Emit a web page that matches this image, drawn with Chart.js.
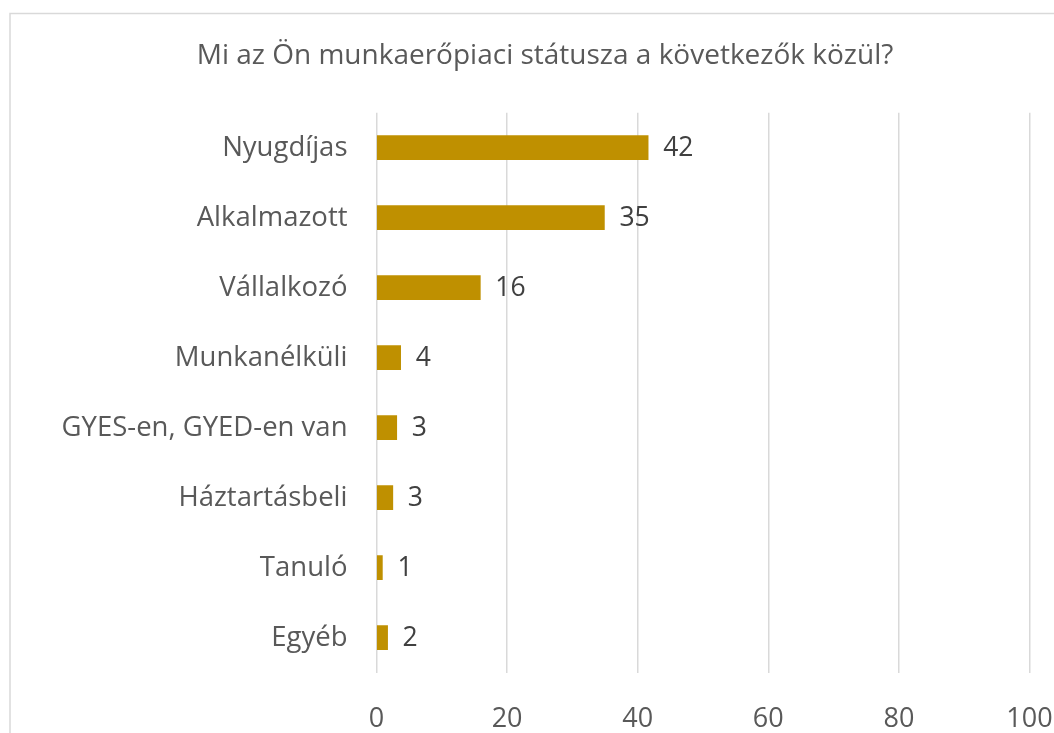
<!DOCTYPE html>
<html>
<head>
<meta charset="utf-8">
<script src="https://cdn.jsdelivr.net/npm/chart.js@4/dist/chart.umd.min.js"></script>
<style>
  html, body { margin: 0; padding: 0; background: #ffffff; }
  #wrap { width: 1054px; height: 733px; position: relative; }
</style>
</head>
<body>
<div id="wrap"><canvas id="c" width="1054" height="733"></canvas></div>
<script>
const titleText = 'Mi az Ön munkaerőpiaci státusza a következők közül?';
const categories = ['Nyugdíjas', 'Alkalmazott', 'Vállalkozó', 'Munkanélküli', 'GYES-en, GYED-en van', 'Háztartásbeli', 'Tanuló', 'Egyéb'];
const values = [41.6, 34.9, 15.9, 3.7, 3.1, 2.5, 0.9, 1.7];
const xTicks = [0, 20, 40, 60, 80, 100];

const FONT = '"Open Sans", "Noto Sans", sans-serif';

const frame = {
  id: 'frame',
  beforeDraw(chart) {
    const ctx = chart.ctx;
    ctx.save();
    ctx.fillStyle = '#ffffff';
    ctx.fillRect(0, 0, chart.width, chart.height);
    ctx.strokeStyle = '#D9D9D9';
    ctx.lineWidth = 1.5;
    ctx.strokeRect(10, 13.5, chart.width + 20, chart.height + 20);
    // chart title
    ctx.font = '28px ' + FONT;
    ctx.fillStyle = '#595959';
    ctx.textAlign = 'center';
    ctx.textBaseline = 'alphabetic';
    ctx.fillText(titleText, 545, 64);
    ctx.restore();
  }
};

const valueLabels = {
  id: 'valueLabels',
  afterDatasetsDraw(chart) {
    const ctx = chart.ctx;
    const meta = chart.getDatasetMeta(0);
    ctx.save();
    ctx.font = '26.5px ' + FONT;
    ctx.fillStyle = '#404040';
    ctx.textAlign = 'left';
    ctx.textBaseline = 'middle';
    meta.data.forEach((bar, i) => {
      ctx.fillText(String(Math.round(values[i])), bar.x + 15, bar.y + 1);
    });
    ctx.restore();
  }
};

new Chart(document.getElementById('c'), {
  type: 'bar',
  data: {
    labels: categories,
    datasets: [{
      data: values,
      backgroundColor: '#BF9000',
      borderWidth: 0,
      barThickness: 24
    }]
  },
  options: {
    indexAxis: 'y',
    responsive: false,
    animation: false,
    devicePixelRatio: 1,
    layout: { padding: { left: 0, right: 24.5, top: 112.7, bottom: 0 } },
    plugins: {
      legend: { display: false },
      tooltip: { enabled: false },
      title: { display: false }
    },
    scales: {
      x: {
        type: 'linear',
        min: 0,
        max: 100,
        afterBuildTicks(scale) { scale.ticks = xTicks.map(v => ({ value: v })); },
        afterFit(scale) { scale.height = 60.3; scale.paddingLeft = 0; scale.paddingRight = 0; },
        grid: { color: '#D9D9D9', lineWidth: 1.5, drawTicks: false },
        border: { display: false },
        ticks: {
          color: '#595959',
          padding: 30,
          font: { family: FONT, size: 27 }
        }
      },
      y: {
        type: 'category',
        afterFit(scale) { scale.width = 376.5; scale.paddingTop = 0; scale.paddingBottom = 0; },
        grid: { display: false, drawTicks: false },
        border: { display: false },
        ticks: {
          color: '#595959',
          padding: 29,
          font: { family: FONT, size: 27.5 }
        }
      }
    }
  },
  plugins: [frame, valueLabels]
});
</script>
</body>
</html>
